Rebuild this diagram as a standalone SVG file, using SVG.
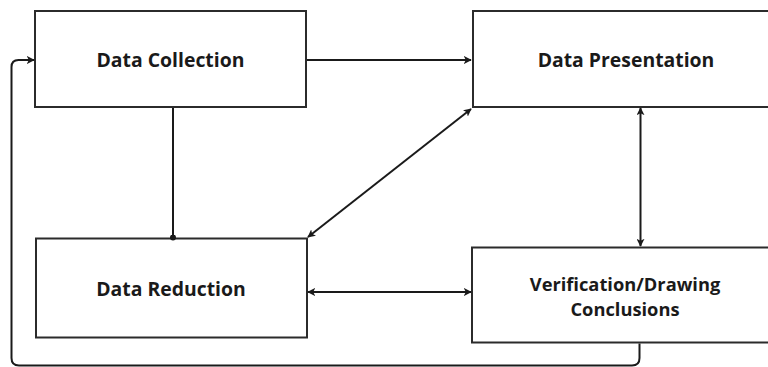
<svg xmlns="http://www.w3.org/2000/svg" width="768" height="367" viewBox="0 0 768 367">
<style>
.box{fill:#fff;stroke:#2b2b2b;stroke-width:2}
.lbl{font-family:"Open Sans","Noto Sans",sans-serif;font-weight:700;font-size:19.4px;fill:#1a1a1a;text-anchor:middle}
.sm{font-size:18.3px}
.ln{fill:none;stroke:#1a1a1a;stroke-width:2}
</style>
<defs>
<marker id="ah" viewBox="0 0 10 10" refX="9" refY="5" markerWidth="8" markerHeight="8" markerUnits="userSpaceOnUse" orient="auto-start-reverse">
<path d="M0,0 L10,5 L0,10 L2.5,5 Z" fill="#1a1a1a"/>
</marker>
<marker id="dot" viewBox="0 0 10 10" refX="5" refY="5" markerWidth="6" markerHeight="6" markerUnits="userSpaceOnUse">
<circle cx="5" cy="5" r="5" fill="#1a1a1a"/>
</marker>
</defs>
<rect width="768" height="367" fill="#fff"/>
<g id="data-collection">
<rect class="box" x="35" y="11" width="271" height="96"/>
<text class="lbl" x="170.5" y="66.5">Data Collection</text>
</g>
<g id="data-presentation">
<rect class="box" x="473" y="11" width="310" height="96"/>
<text class="lbl" x="626" y="66.5">Data Presentation</text>
</g>
<g id="data-reduction">
<rect class="box" x="36" y="238.5" width="271" height="99"/>
<text class="lbl" x="171" y="296">Data Reduction</text>
</g>
<g id="verification">
<rect class="box" x="472" y="247.5" width="310" height="95"/>
<text class="lbl sm" x="625" y="291">Verification/Drawing</text>
<text class="lbl sm" x="625" y="315.5">Conclusions</text>
</g>
<g id="connectors">
<line class="ln" x1="307" y1="60" x2="471" y2="60" marker-end="url(#ah)"/>
<line class="ln" x1="173" y1="108" x2="173" y2="237.5" marker-end="url(#dot)"/>
<line class="ln" x1="471" y1="109" x2="308" y2="237" marker-start="url(#ah)" marker-end="url(#ah)"/>
<line class="ln" x1="640.5" y1="108" x2="640.5" y2="246" marker-start="url(#ah)" marker-end="url(#ah)"/>
<line class="ln" x1="308" y1="292" x2="471" y2="292" marker-start="url(#ah)" marker-end="url(#ah)"/>
<path class="ln" d="M639.5,343.5 V358 Q639.5,365.5 632,365.5 H19 Q11.5,365.5 11.5,358 V67 Q11.5,60 18.5,60 H34" marker-end="url(#ah)"/>
</g>
</svg>
